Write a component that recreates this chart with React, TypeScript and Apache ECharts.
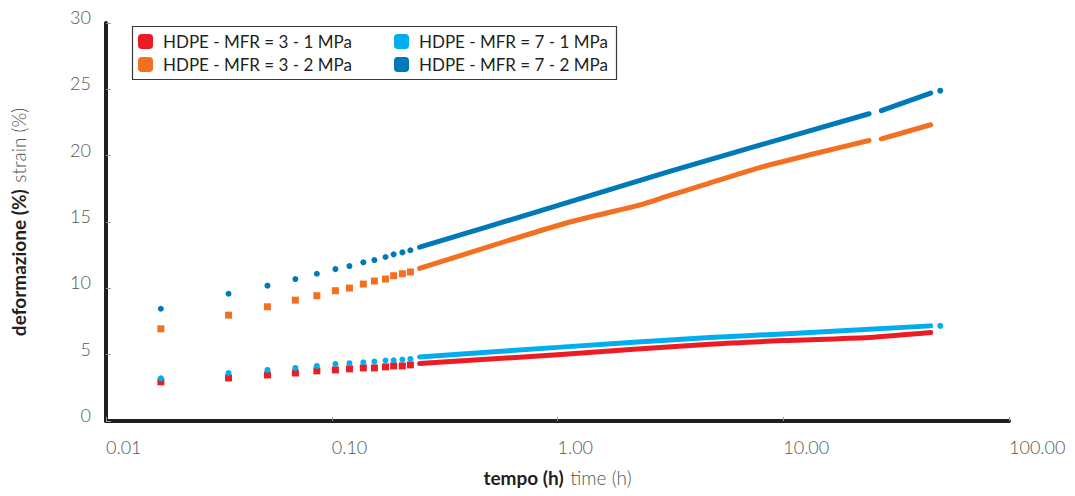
import React, { useEffect, useRef } from "react";
import * as echarts from "echarts";

// ---- Data ----
const seriesNames = [
  "HDPE - MFR = 3 - 1 MPa",
  "HDPE - MFR = 3 - 2 MPa",
  "HDPE - MFR = 7 - 1 MPa",
  "HDPE - MFR = 7 - 2 MPa",
];
const seriesColors = ["#ed1c24", "#f37021", "#00aeef", "#0079b8"];

// early readings (h), drawn as markers
const markerTimes = [0.0175, 0.0349, 0.0519, 0.069, 0.0859, 0.1038, 0.1198, 0.138, 0.1545, 0.173, 0.188, 0.2055, 0.223];
const red31Markers = [2.95, 3.25, 3.47, 3.62, 3.78, 3.85, 3.93, 4.0, 4.0, 4.08, 4.15, 4.15, 4.23];
const orange32Markers = [6.95, 7.98, 8.61, 9.11, 9.44, 9.82, 10.02, 10.32, 10.55, 10.7, 10.95, 11.1, 11.23];
const light71Markers = [3.22, 3.62, 3.85, 4.0, 4.15, 4.3, 4.36, 4.43, 4.48, 4.56, 4.58, 4.63, 4.68];
const dark72Markers = [8.46, 9.59, 10.2, 10.7, 11.1, 11.45, 11.68, 11.96, 12.13, 12.36, 12.56, 12.71, 12.87];

// continuous curves ("-" = gap in the record)
const red31CurveTimes = [0.245, 1.0, 4.73, 10, 24.0, 45.0];
const red31Curve = [4.33, 5.0, 5.79, 6.06, 6.3, 6.67];
const orange32CurveTimes = [0.245, 0.615, 1.135, 1.827, 2.396, 3.14, 4.27, 7.87, 14, 24.0, 25.5, 27.2, 45.0];
const orange32Curve = [11.5, 13.64, 15.0, 15.85, 16.35, 17.0, 17.7, 19.1, 20.18, 21.14, "-", 21.27, 22.33];
const light71CurveTimes = [0.245, 1.0, 4.73, 10, 45.0];
const light71Curve = [4.83, 5.55, 6.3, 6.56, 7.17];
const dark72CurveTimes = [0.245, 0.865, 3.14, 24.0, 25.5, 27.2, 45.0];
const dark72Curve = [13.1, 15.91, 18.82, 23.16, "-", 23.4, 24.72];

// final isolated readings
const light71EndTime = [49.6];
const light71End = [7.17];
const dark72EndTime = [49.6];
const dark72End = [24.9];

const yTicks = { min: 0, max: 30, interval: 5 };
const xRange = { min: 0.01, max: 100 };

const zip = (xs: number[], ys: (number | string)[]) => xs.map((x, i) => [x, ys[i]]);

export default function App() {
  const ref = useRef<HTMLDivElement>(null);

  useEffect(() => {
    if (!ref.current) return;
    const chart = echarts.init(ref.current, null, { renderer: "svg" });
    const font = "Lato, 'Open Sans', sans-serif";

    const markerSets = [
      { data: zip(markerTimes, red31Markers), symbol: "rect", size: 7 },
      { data: zip(markerTimes, orange32Markers), symbol: "rect", size: 7 },
      { data: zip(markerTimes, light71Markers).concat(zip(light71EndTime, light71End)), symbol: "circle", size: 6 },
      { data: zip(markerTimes, dark72Markers).concat(zip(dark72EndTime, dark72End)), symbol: "circle", size: 6 },
    ];
    const curves = [
      zip(red31CurveTimes, red31Curve),
      zip(orange32CurveTimes, orange32Curve),
      zip(light71CurveTimes, light71Curve),
      zip(dark72CurveTimes, dark72Curve),
    ];

    const series: any[] = [];
    seriesNames.forEach((name, i) => {
      series.push({
        type: "scatter",
        name,
        data: markerSets[i].data,
        symbol: markerSets[i].symbol,
        symbolSize: markerSets[i].size,
        itemStyle: { color: seriesColors[i], opacity: 1 },
        z: 2 + i,
      });
      series.push({
        type: "line",
        name,
        data: curves[i],
        showSymbol: false,
        symbol: "none",
        smooth: 0.25,
        connectNulls: false,
        lineStyle: { color: seriesColors[i], width: 5, cap: "round", join: "round" },
        itemStyle: { color: seriesColors[i], opacity: 1 },
        z: 2 + i,
      });
    });

    const legendCommon = {
      orient: "vertical" as const,
      padding: 0,
      itemWidth: 15,
      itemHeight: 15,
      itemGap: 6,
      icon: "roundRect",
      selectedMode: false,
      itemStyle: { opacity: 1 },
      textStyle: {
        fontFamily: font,
        fontSize: 17,
        color: "#231f20",
        lineHeight: 16,
        padding: [0, 0, 0, 5],
      },
    };

    const nameRich = {
      b: { fontFamily: font, fontSize: 19, fontWeight: "bold", color: "#231f20" },
      l: { fontFamily: font, fontSize: 19, fontWeight: 300, color: "#555555" },
    };

    chart.setOption({
      animation: false,
      backgroundColor: "#ffffff",
      grid: { left: 106, right: 66, top: 23, bottom: 75, containLabel: false },
      legend: [
        { ...legendCommon, left: 138, top: 33, data: [seriesNames[0], seriesNames[1]] },
        { ...legendCommon, left: 394, top: 33, data: [seriesNames[2], seriesNames[3]] },
      ],
      graphic: [
        {
          type: "rect",
          left: 130,
          top: 24,
          shape: { width: 484, height: 53 },
          style: { fill: "none", stroke: "#3a3a3a", lineWidth: 1.2 },
          z: 100,
        },
      ],
      xAxis: {
        type: "log",
        logBase: 10,
        min: xRange.min,
        max: xRange.max,
        name: "{b|tempo (h)}  {l|time (h)}",
        nameLocation: "middle",
        nameGap: 47,
        nameTextStyle: { rich: nameRich },
        axisLine: { show: true, lineStyle: { color: "#231f20", width: 4 } },
        axisTick: { show: true, inside: true, length: 4, lineStyle: { color: "#999999", width: 1 } },
        minorTick: { show: false },
        splitLine: { show: false },
        axisLabel: {
          fontFamily: font,
          fontSize: 18,
          fontWeight: 300,
          color: "#555555",
          align: "left",
          margin: 17,
          showMinLabel: true,
          showMaxLabel: true,
          formatter: (v: number) => v.toFixed(2),
        },
      },
      yAxis: {
        type: "value",
        min: yTicks.min,
        max: yTicks.max,
        interval: yTicks.interval,
        name: "{b|deformazione (%)}  {l|strain (%)}",
        nameLocation: "middle",
        nameGap: 78,
        nameTextStyle: { rich: nameRich },
        axisLine: { show: true, lineStyle: { color: "#231f20", width: 4 } },
        axisTick: { show: true, inside: true, length: 5, lineStyle: { color: "#999999", width: 1 } },
        splitLine: { show: false },
        axisLabel: {
          fontFamily: font,
          fontSize: 18,
          fontWeight: 300,
          color: "#555555",
          align: "right",
          verticalAlign: "bottom",
          lineHeight: 12,
          margin: 15,
        },
      },
      series,
    });

    return () => chart.dispose();
  }, []);

  return (
    <div
      ref={ref}
      style={{ position: "fixed", left: 0, top: 0, width: 1075, height: 496 }}
    />
  );
}
